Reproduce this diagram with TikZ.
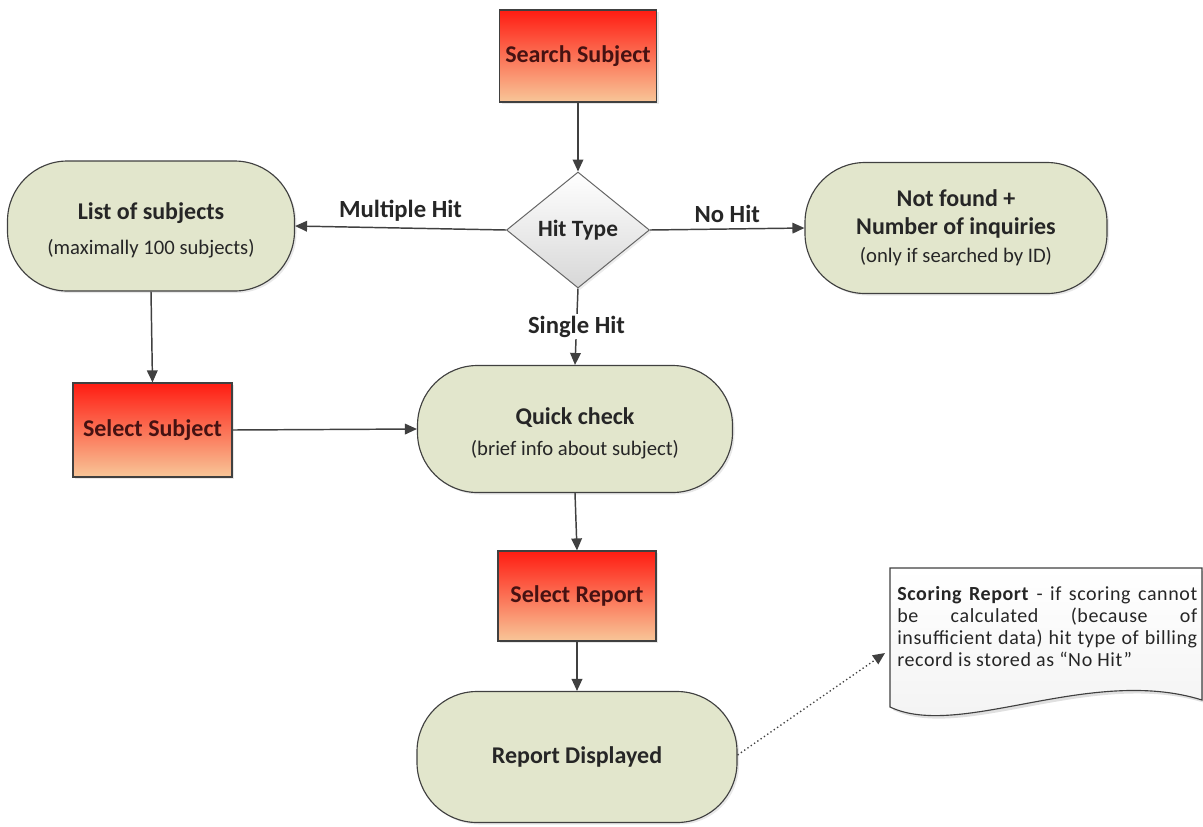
\documentclass[tikz,border=0pt]{standalone}
\usepackage{fontspec}
\setmainfont{Carlito}
\newfontfamily\docfont[LetterSpace=3]{Carlito}
\usetikzlibrary{arrows.meta,shapes.geometric,shadows}
\definecolor{linegray}{RGB}{64,64,64}
\definecolor{capfill}{RGB}{226,230,204}
\definecolor{boxtop}{RGB}{255,28,18}
\definecolor{boxmid}{RGB}{246,130,100}
\definecolor{boxbot}{RGB}{248,198,152}
\definecolor{boxtext}{RGB}{70,18,18}
\definecolor{diagbot}{RGB}{215,215,215}
\definecolor{docfill}{RGB}{242,242,242}
\newcommand\subfnt{\fontsize{15.5}{18}\selectfont}
\tikzset{
  redbox/.style={rectangle, draw=linegray, line width=0.9pt, top color=boxtop, middle color=boxmid, bottom color=boxbot,
    text=boxtext, font=\bfseries\fontsize{18}{21}\selectfont, inner sep=0pt,
    drop shadow={opacity=0.18, shadow xshift=1.5pt, shadow yshift=-1.5pt}},
  capsule/.style={rectangle, rounded corners=45pt, draw=linegray, line width=0.85pt, fill=capfill,
    align=center, font=\fontsize{18}{21}\selectfont, inner sep=0pt, text=black!85,
    drop shadow={opacity=0.18, shadow xshift=1.5pt, shadow yshift=-1.5pt}},
  decision/.style={diamond, draw=linegray!80, line width=0.75pt, top color=white, bottom color=diagbot,
    font=\bfseries\fontsize{17.5}{20}\selectfont, inner sep=0pt, text=black!85,
    drop shadow={opacity=0.15, shadow xshift=1.5pt, shadow yshift=-1.5pt}},
  arr/.style={draw=linegray, line width=1.1pt, -{Triangle[length=9pt,width=8pt]}},
  dotarr/.style={draw=linegray, line width=1pt, dotted, -{Triangle[length=9pt,width=8pt]}},
  lbl/.style={font=\bfseries\fontsize{18.5}{21}\selectfont, text=black!85}
}
\begin{document}
\begin{tikzpicture}[x=0.75pt,y=-0.75pt]
\useasboundingbox (0,0) rectangle (1203,826);

\node[redbox, minimum width=117.75pt, minimum height=69pt] (ss) at (578,56) {Search Subject};
\node[decision, minimum width=107.25pt, minimum height=87pt] (ht) at (578,230) {Hit Type};
\node[capsule, minimum width=215.25pt, minimum height=97.5pt] (ls) at (151,226)
  {\rule{0pt}{19pt}\textbf{List of subjects}\\[5pt]{\subfnt(maximally 100 subjects)}};
\node[capsule, minimum width=226.5pt, minimum height=98.25pt] (nf) at (956,228)
  {\textbf{Not found +}\\\textbf{Number of inquiries}\\{\subfnt(only if searched by ID)}};
\node[capsule, minimum width=236.25pt, minimum height=95.25pt] (qc) at (575,429)
  {\rule{0pt}{19pt}\textbf{Quick check}\\[2pt]{\subfnt(brief info about subject)}};
\node[redbox, minimum width=119.25pt, minimum height=70.5pt] (sel) at (152.5,430) {Select Subject};
\node[redbox, minimum width=118.5pt, minimum height=67.5pt] (sr) at (577,596) {Select Report};
\node[capsule, minimum width=240pt, minimum height=98.25pt] (rd) at (577,757) {\textbf{Report Displayed}};

% document shape
\fill[black, opacity=0.12] (893,571) -- (1205,571) -- (1205,703) .. controls (1093,668) and (963,743) .. (893,710) -- cycle;
\draw[draw=linegray, line width=0.85pt, top color=white, bottom color=docfill]
  (890,568) -- (1202,568) -- (1202,700) .. controls (1090,665) and (960,740) .. (890,707) -- cycle;
\node[anchor=north west, text width=225pt, align=justify, inner sep=0pt, text=black!85,
      font=\docfont\fontsize{15}{16.5}\selectfont] (doc) at (897,586)
  {\textbf{Scoring Report} - if scoring cannot\linebreak be calculated (because of\linebreak insufficient data) hit type of billing\linebreak record is stored as “No Hit”};
\coordinate (doctip) at (885,653);

% connectors
\draw[arr] (ss.south) -- (ht.north);
\draw[arr] (ht.west) -- node[lbl, above=1pt] {Multiple Hit} (ls.east);
\draw[arr] (ht.east) -- node[lbl, above=1pt] {No Hit} (nf.west);
\draw[arr] (ht.south) -- node[lbl, fill=white, inner sep=1.5pt] {Single Hit} (qc.north);
\draw[arr] (ls.south) -- (sel.north);
\draw[arr] (sel.east) -- (qc.west);
\draw[arr] (qc.south) -- (sr.north);
\draw[arr] (sr.south) -- (rd.north);
\draw[dotarr] ([yshift=1.5pt]rd.east) -- (doctip);
\end{tikzpicture}
\end{document}
